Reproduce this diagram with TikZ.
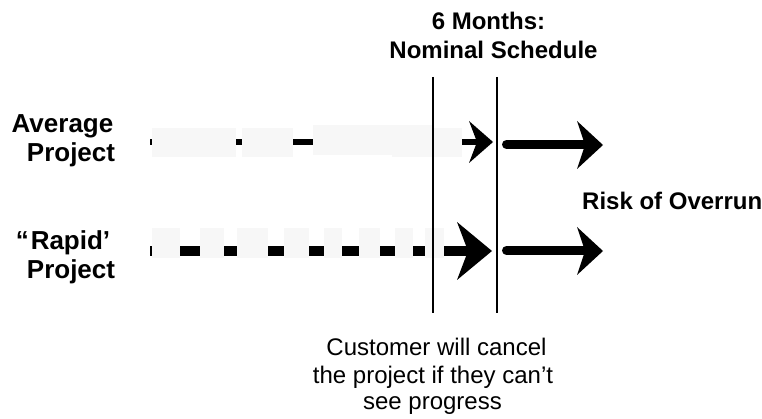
\documentclass[tikz,border=0pt]{standalone}
\usepackage{fontspec}
\setmainfont{Liberation Sans}
\definecolor{veilgray}{RGB}{247,247,247}
\begin{document}
\begin{tikzpicture}[x=1pt,y=-1pt,
  lblb/.style={font=\fontsize{24}{29}\selectfont\bfseries, inner sep=0pt, anchor=base},
  lblbig/.style={font=\fontsize{26}{30}\selectfont\bfseries, inner sep=0pt, anchor=base},
  lbl/.style={font=\fontsize{24}{29}\selectfont, inner sep=0pt, anchor=base},
  veil/.style={fill=veilgray, draw=none},
  vline/.style={line width=1.3pt},
  headfill/.style={fill=black, draw=none}]
\useasboundingbox (0,0) rectangle (762,419);

% titles
\node[lblb] (t1) at (488.5,30) {6 Months:};
\node[lblb] (t2) at (493.5,59) {Nominal Schedule};
\node[lblbig] (a1) at (62.5,133) {Average};
\node[lblbig] (a2) at (71,162) {Project};
\node[lblbig] (r1) at (63,250) {“\kern2pt Rapid’};
\node[lblbig] (r2) at (71,279) {Project};
\node[lblb, anchor=base west] (risk) at (582,210) {Risk of Overrun};
\node[lbl] (c1) at (436.5,355) {Customer will cancel};
\node[lbl] (c2) at (433,383) {the project if they can’t};
\node[lbl] (c3) at (432.5,409) {see progress};

% coordinates
\coordinate (a0) at (150,142);
\coordinate (an) at (478,142);
\coordinate (b0) at (150,251);
\coordinate (bn) at (469,251);
\coordinate (ra0) at (506.5,144.5);
\coordinate (ra1) at (585,144.5);
\coordinate (rb0) at (506.5,250.5);
\coordinate (rb1) at (585,250.5);
\coordinate (v1t) at (433,77);
\coordinate (v1b) at (433,313);
\coordinate (v2t) at (497,77);
\coordinate (v2b) at (497,313);

% average project arrow
\draw[line width=6pt] (a0) -- (an);
\fill[headfill] (493,142) -- (469,121) -- (477,142) -- (469,163) -- cycle;
\fill[veil] (152,128) rectangle (236,157);
\fill[veil] (242,128) rectangle (293,157);
\fill[veil] (313,125) rectangle (433,155);
\fill[veil] (392,128) rectangle (462,157);

% rapid project arrow
\draw[line width=10pt] (b0) -- (bn);
\fill[headfill] (492,251) -- (457,222) -- (468,251) -- (457,280) -- cycle;
\foreach \xa/\xb in {152/180,199.5/224,237/268,284/308.5,323.5/342,358.5/380,395/413,424.5/444}
  \fill[veil] (\xa,228) rectangle (\xb,258);

% overrun arrows
\draw[line width=9pt, line cap=round] (ra0) -- (ra1);
\fill[headfill] (603,145) -- (577,121) -- (585,145) -- (577,169) -- cycle;
\draw[line width=9pt, line cap=round] (rb0) -- (rb1);
\fill[headfill] (603,251) -- (577,227) -- (585,251) -- (577,275) -- cycle;

% schedule lines
\draw[vline] (v1t) -- (v1b);
\draw[vline] (v2t) -- (v2b);
\end{tikzpicture}
\end{document}
